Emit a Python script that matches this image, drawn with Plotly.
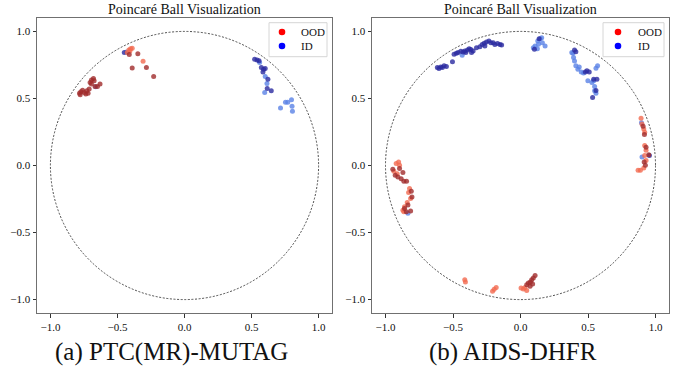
import plotly.graph_objects as go

# ---------------- data: panel (a) PTC(MR)-MUTAG ----------------
a_ood_dark_x = [-0.773, -0.783, -0.760, -0.748, -0.778, -0.736, -0.719, -0.728, -0.711, -0.704,
                -0.694, -0.679, -0.674, -0.694, -0.667, -0.649, -0.630,
                -0.412, -0.348, -0.390, -0.284, -0.230]
a_ood_dark_y = [0.550, 0.538, 0.562, 0.545, 0.528, 0.533, 0.538, 0.557, 0.570, 0.619,
                0.637, 0.649, 0.632, 0.607, 0.590, 0.590, 0.607,
                0.827, 0.834, 0.728, 0.731, 0.664]
a_ood_light_x = [-0.427, -0.415, -0.402, -0.390, -0.407, -0.309]
a_ood_light_y = [0.842, 0.862, 0.871, 0.874, 0.854, 0.778]
a_id_dark_x = [-0.449, 0.523, 0.541, 0.556, 0.573, 0.590, 0.602, 0.585, 0.622, 0.617, 0.647]
a_id_dark_y = [0.842, 0.792, 0.787, 0.782, 0.730, 0.718, 0.723, 0.698, 0.644, 0.575, 0.557]
a_id_light_x = [-0.662, -0.432, 0.560, 0.602, 0.615, 0.598, 0.716, 0.753, 0.770, 0.798, 0.802, 0.805]
a_id_light_y = [0.588, 0.847, 0.768, 0.664, 0.612, 0.545, 0.429, 0.471, 0.471, 0.491, 0.441, 0.404]

# ---------------- data: panel (b) AIDS-DHFR ----------------
b_ood_dark_x = [0.908, 0.918, 0.930, 0.950, 0.916, 0.925,
                -0.946, -0.928, -0.908, -0.884, -0.864, -0.844, -0.871, -0.809, -0.804, -0.834,
                -0.814, -0.846, -0.859, -0.896,
                0.046, 0.058, 0.073, 0.083, 0.095, 0.108, 0.071, 0.090]
b_ood_dark_y = [0.293, 0.231, 0.137, 0.080, 0.026, 0.001,
                -0.028, -0.073, -0.085, -0.098, -0.117, -0.117, -0.053, -0.192, -0.234, -0.295,
                -0.340, -0.345, -0.320, -0.023,
                -0.889, -0.876, -0.869, -0.852, -0.839, -0.820, -0.901, -0.884]
b_ood_light_x = [0.893, 0.900, 0.913, 0.920, 0.920, 0.930, 0.920, 0.930, 0.913, 0.888, 0.871,
                 -0.921, -0.903, -0.896, -0.938, -0.913, -0.822, -0.829, -0.814, -0.839, -0.859,
                 -0.871, -0.864,
                 -0.413, -0.408, -0.207, -0.195, -0.180, 0.004, 0.021, 0.046, 0.033]
b_ood_light_y = [0.352, 0.310, 0.273, 0.248, 0.150, 0.113, 0.075, 0.038, -0.019, -0.036, -0.036,
                 0.014, 0.026, 0.001, -0.043, -0.061, -0.172, -0.201, -0.246, -0.276, -0.308,
                 -0.333, -0.345,
                 -0.852, -0.869, -0.938, -0.923, -0.909, -0.913, -0.921, -0.933, -0.909]
b_id_dark_x = [-0.616, -0.604, -0.591, -0.579, -0.566, -0.549, -0.504, -0.492, -0.475, -0.462,
               -0.442, -0.425, -0.413, -0.393, -0.380, -0.368, -0.351, -0.326, -0.301, -0.284,
               -0.269, -0.252, -0.234, -0.219, -0.202, -0.190, -0.170, -0.152, -0.140, -0.264,
               -0.363, -0.405,
               0.103, 0.138,
               0.400, 0.410, 0.480, 0.492, 0.509, 0.542, 0.566, 0.534, 0.559, 0.955]
b_id_dark_y = [0.731, 0.723, 0.735, 0.731, 0.743, 0.738, 0.773, 0.829, 0.837, 0.842,
               0.852, 0.847, 0.854, 0.862, 0.871, 0.866, 0.854, 0.879, 0.886, 0.903,
               0.911, 0.921, 0.928, 0.916, 0.916, 0.903, 0.909, 0.903, 0.899, 0.891,
               0.842, 0.842,
               0.867, 0.946,
               0.861, 0.849, 0.698, 0.706, 0.698, 0.644, 0.644, 0.508, 0.559, 0.075]
b_id_light_x = [-0.432,
                0.095, 0.108, 0.128, 0.145, 0.157, 0.133, 0.162, 0.182, 0.125,
                0.380, 0.393, 0.400, 0.410, 0.425, 0.435, 0.450, 0.467, 0.499, 0.529,
                0.542, 0.549, 0.549, 0.559, 0.571, 0.559, 0.388,
                0.896, 0.900, -0.834]
b_id_light_y = [0.822,
                0.879, 0.891, 0.928, 0.946, 0.953, 0.904, 0.916, 0.891, 0.871,
                0.842, 0.805, 0.780, 0.743, 0.718, 0.735, 0.698, 0.689, 0.632, 0.619,
                0.632, 0.590, 0.557, 0.538, 0.743, 0.726, 0.837,
                0.318, 0.063, -0.357]

titles = ["Poincaré Ball Visualization", "Poincaré Ball Visualization"]
captions = ["(a) PTC(MR)-MUTAG", "(b) AIDS-DHFR"]
legend_labels = ["OOD", "ID"]
legend_colors = ["#ff0000", "#0000ff"]
tick_vals = [-1.0, -0.5, 0.0, 0.5, 1.0]
tick_text = ["\u22121.0", "\u22120.5", "0.0", "0.5", "1.0"]

# ---------------- styling ----------------
W, H = 679, 375
SERIF = "Liberation Serif"
C_OOD_DARK = "#a02c2c"
C_OOD_LIGHT = "#f26a50"
C_ID_DARK = "#2a2aa0"
C_ID_LIGHT = "#5a82e6"
OPAC = 0.8
MSIZE = 5


def px(x):
    return x / W


def py(y):
    return 1 - y / H


fig = go.Figure()

panels = [
    ("x", "y", a_ood_dark_x, a_ood_dark_y, a_ood_light_x, a_ood_light_y,
     a_id_dark_x, a_id_dark_y, a_id_light_x, a_id_light_y),
    ("x2", "y2", b_ood_dark_x, b_ood_dark_y, b_ood_light_x, b_ood_light_y,
     b_id_dark_x, b_id_dark_y, b_id_light_x, b_id_light_y),
]

for xa, ya, odx, ody, olx, oly, idx_, idy, ilx, ily in panels:
    for xs, ys, col, nm in [(ilx, ily, C_ID_LIGHT, "ID"), (idx_, idy, C_ID_DARK, "ID"),
                            (olx, oly, C_OOD_LIGHT, "OOD"), (odx, ody, C_OOD_DARK, "OOD")]:
        fig.add_trace(go.Scatter(x=xs, y=ys, mode="markers", xaxis=xa, yaxis=ya, name=nm,
                                 marker=dict(color=col, size=MSIZE, opacity=OPAC,
                                             line=dict(width=0)),
                                 showlegend=False))
    # unit circle (Poincaré ball boundary)
    fig.add_shape(type="circle", xref=xa, yref=ya, x0=-1, y0=-1, x1=1, y1=1,
                  line=dict(color="#222222", width=0.8, dash="2px,1.6px"), layer="below")

# legend boxes (pixel positions): (box_left, box_right, marker_x, text_x)
legend_boxes = [(269, 327, 282, 299), (603, 664, 618, 636)]
row_y = [32, 46]
for bl, br, mx, tx in legend_boxes:
    fig.add_shape(type="rect", xref="paper", yref="paper",
                  x0=px(bl), x1=px(br), y0=py(56.7), y1=py(22.7),
                  line=dict(color="#d6d6d6", width=1), fillcolor="rgba(255,255,255,0.85)",
                  layer="above")
    for ry, lab, col in zip(row_y, legend_labels, legend_colors):
        r = 3.3
        fig.add_shape(type="circle", xref="paper", yref="paper",
                      x0=px(mx - r), x1=px(mx + r), y0=py(ry + r), y1=py(ry - r),
                      line=dict(width=0), fillcolor=col, layer="above")
        fig.add_annotation(text=lab, x=px(tx), y=py(ry), xref="paper", yref="paper",
                           showarrow=False, xanchor="left", yanchor="middle",
                           font=dict(family=SERIF, size=11, color="#111111"))

dom_y = [1 - 313 / H, 1 - 18 / H]
doms_x = [[37 / W, 332 / W], [372 / W, 669 / W]]

axis_common = dict(range=[-1.1, 1.1], showgrid=False, zeroline=False, showline=True,
                   linecolor="#707070", linewidth=1, mirror=True, ticks="outside",
                   ticklen=3.5, tickwidth=0.8, tickcolor="#333333",
                   tickvals=tick_vals, ticktext=tick_text,
                   tickfont=dict(family=SERIF, size=11, color="#111111"))

fig.update_layout(
    width=W, height=H, margin=dict(l=0, r=0, t=0, b=0, autoexpand=False),
    paper_bgcolor="white", plot_bgcolor="white", showlegend=False,
    xaxis=dict(domain=doms_x[0], anchor="y", **axis_common),
    yaxis=dict(domain=dom_y, anchor="x", **axis_common),
    xaxis2=dict(domain=doms_x[1], anchor="y2", **axis_common),
    yaxis2=dict(domain=dom_y, anchor="x2", **axis_common),
)

centers = [(37 + 332) / 2, (372 + 669) / 2]
for cx, t in zip(centers, titles):
    fig.add_annotation(text=t, x=px(cx), y=py(10), xref="paper", yref="paper",
                       showarrow=False, xanchor="center", yanchor="middle",
                       font=dict(family=SERIF, size=14, color="#111111"))

for cx, c in zip([171, 513], captions):
    fig.add_annotation(text=c, x=px(cx), y=py(352), xref="paper", yref="paper",
                       showarrow=False, xanchor="center", yanchor="middle",
                       font=dict(family=SERIF, size=25, color="#111111"))

fig.write_html("out.html", config={"displayModeBar": False},
               post_script="document.body.style.margin='0';document.body.style.overflow='hidden';")
